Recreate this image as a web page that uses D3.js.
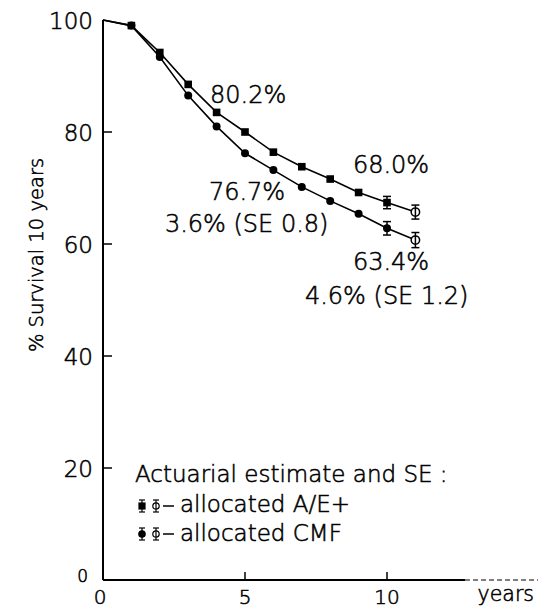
<!DOCTYPE html>
<html>
<head>
<meta charset="utf-8">
<script src="https://cdn.jsdelivr.net/npm/d3@7"></script>
<style>
  body { margin: 0; background: #fff; }
  svg { font-family: "DejaVu Sans", sans-serif; font-weight: 300; }
  text { fill: #000; stroke: #000; stroke-width: 0.55px; }
</style>
</head>
<body>
<svg id="chart" width="546" height="610"></svg>
<script>
// survival data
const years = [0, 1, 2, 3, 4, 5, 6, 7, 8, 9, 10, 11]
const aeSurvival = [100, 99.0, 94.2, 88.5, 83.5, 80.0, 76.4, 73.8, 71.6, 69.2, 67.4, 65.7]
const cmfSurvival = [100, 99.0, 93.4, 86.5, 81.0, 76.2, 73.2, 70.2, 67.7, 65.4, 62.8, 60.7]
// standard errors shown only at 10 and 11 years
const seYears = [10, 11]
const aeSE = [1.1, 1.25]
const cmfSE = [1.2, 1.35]

const yTicks = [20, 40, 60, 80, 100]
const xTicks = [0, 5, 10]

const annotations = [
  {text: "80.2%", year: 3.77, value: 85.2},
  {text: "76.7%", year: 3.73, value: 67.9},
  {text: "3.6% (SE 0.8)", year: 2.18, value: 62.1},
  {text: "68.0%", year: 8.8, value: 72.7},
  {text: "63.4%", year: 8.8, value: 55.4},
  {text: "4.6% (SE 1.2)", year: 7.11, value: 49.3}
]

const legendTitle = "Actuarial estimate and SE :"
const legendItems = [
  {label: "allocated A/E+", marker: "square"},
  {label: "allocated CMF", marker: "circle"}
]

let svg = d3.select("#chart")
let x = d3.scaleLinear().domain([0, 10]).range([103, 387])
let y = d3.scaleLinear().domain([0, 100]).range([580, 20])

// axes, drawn by hand to get the inward ticks of the original
let axes = svg.append("g").attr("stroke", "#000")
axes.append("line")
  .attr("x1", x(0)).attr("x2", x(0)).attr("y1", y(0)).attr("y2", y(100))
  .attr("stroke-width", 2)
axes.append("line")
  .attr("x1", x(0)).attr("x2", 465).attr("y1", y(0)).attr("y2", y(0))
  .attr("stroke-width", 2)
axes.append("line")
  .attr("x1", 465).attr("x2", 538).attr("y1", y(0)).attr("y2", y(0))
  .attr("stroke-width", 1.2).attr("stroke-dasharray", "5,3")

axes.selectAll("line.ytick")
  .data(yTicks.filter(d => d < 100))
  .join("line")
  .attr("class", "ytick")
  .attr("x1", x(0)).attr("x2", x(0) + 9)
  .attr("y1", d => y(d)).attr("y2", d => y(d))
  .attr("stroke-width", 1.5)

axes.selectAll("line.xtick")
  .data(xTicks.filter(d => d > 0))
  .join("line")
  .attr("class", "xtick")
  .attr("x1", d => x(d)).attr("x2", d => x(d))
  .attr("y1", y(0)).attr("y2", y(0) - 8)
  .attr("stroke-width", 1.5)

svg.selectAll("text.ylab")
  .data(yTicks)
  .join("text")
  .attr("class", "ylab")
  .attr("x", x(0) - 10)
  .attr("y", d => y(d) + 8.5)
  .attr("text-anchor", "end")
  .attr("font-size", 23)
  .text(d => d)

svg.append("text")
  .attr("x", x(0) - 15).attr("y", y(0) + 2)
  .attr("text-anchor", "end")
  .attr("font-size", 17)
  .text("0")

svg.selectAll("text.xlab")
  .data(xTicks)
  .join("text")
  .attr("class", "xlab")
  .attr("x", d => x(d) + (d == 0 ? -3 : 0))
  .attr("y", y(0) + 24)
  .attr("text-anchor", "middle")
  .attr("font-size", 20)
  .text(d => d)

svg.append("text")
  .attr("x", 534).attr("y", y(0) + 21)
  .attr("text-anchor", "end")
  .attr("font-size", 20.5)
  .text("years")

svg.append("text")
  .attr("transform", "translate(43, 255) rotate(-90)")
  .attr("text-anchor", "middle")
  .attr("font-size", 19.5)
  .text("% Survival 10 years")

// survival curves
let line = d3.line().x(d => x(d[0])).y(d => y(d[1]))
let series = [
  {values: aeSurvival, se: aeSE, marker: "square"},
  {values: cmfSurvival, se: cmfSE, marker: "circle"}
]

for(const s of series){
  let pts = years.map((yr, i) => [yr, s.values[i]])
  svg.append("path")
    .attr("d", line(pts))
    .attr("fill", "none")
    .attr("stroke", "#000")
    .attr("stroke-width", 1.6)

  // filled markers from year 1 to 10
  let filled = pts.filter(p => p[0] >= 1 && p[0] <= 10)
  if(s.marker == "square"){
    svg.selectAll(null).data(filled).join("rect")
      .attr("x", d => x(d[0]) - 3.8).attr("y", d => y(d[1]) - 3.8)
      .attr("width", 7.6).attr("height", 7.6)
      .attr("fill", "#000")
  } else {
    svg.selectAll(null).data(filled).join("circle")
      .attr("cx", d => x(d[0])).attr("cy", d => y(d[1]))
      .attr("r", 4)
      .attr("fill", "#000")
  }

  // error bars
  let bars = seYears.map((yr, i) => ({year: yr, value: s.values[years.indexOf(yr)], se: s.se[i]}))
  let eb = svg.append("g").attr("stroke", "#000").attr("stroke-width", 1.5)
  eb.selectAll("line.bar").data(bars).join("line")
    .attr("x1", d => x(d.year)).attr("x2", d => x(d.year))
    .attr("y1", d => y(d.value - d.se)).attr("y2", d => y(d.value + d.se))
  eb.selectAll("line.capTop").data(bars).join("line")
    .attr("x1", d => x(d.year) - 4).attr("x2", d => x(d.year) + 4)
    .attr("y1", d => y(d.value + d.se)).attr("y2", d => y(d.value + d.se))
  eb.selectAll("line.capBot").data(bars).join("line")
    .attr("x1", d => x(d.year) - 4).attr("x2", d => x(d.year) + 4)
    .attr("y1", d => y(d.value - d.se)).attr("y2", d => y(d.value - d.se))

  // open marker at 11 years
  let last = pts[pts.length - 1]
  svg.append("circle")
    .attr("cx", x(last[0])).attr("cy", y(last[1]))
    .attr("r", 4.2)
    .attr("fill", "#fff")
    .attr("stroke", "#000")
    .attr("stroke-width", 1.5)
  svg.append("line")
    .attr("x1", x(last[0])).attr("x2", x(last[0]))
    .attr("y1", y(last[1]) - 4.2).attr("y2", y(last[1]) + 4.2)
    .attr("stroke", "#000").attr("stroke-width", 1.5)
}

svg.selectAll("text.note")
  .data(annotations)
  .join("text")
  .attr("class", "note")
  .attr("x", d => x(d.year))
  .attr("y", d => y(d.value))
  .attr("font-size", 24)
  .attr("xml:space", "preserve")
  .text(d => d.text)

// legend
let legend = svg.append("g")
legend.append("text")
  .attr("x", 135).attr("y", 482)
  .attr("font-size", 23)
  .text(legendTitle)

let rows = legend.selectAll("g.row")
  .data(legendItems)
  .join("g")
  .attr("class", "row")
  .attr("transform", (d, i) => `translate(0, ${506 + i * 28})`)

rows.each(function(d){
  let g = d3.select(this)
  let sym = g.append("g").attr("stroke", "#000").attr("stroke-width", 1.2)
  // filled marker with SE bar
  sym.append("line").attr("x1", 142).attr("x2", 142).attr("y1", -6).attr("y2", 6)
  sym.append("line").attr("x1", 139).attr("x2", 145).attr("y1", -6).attr("y2", -6)
  sym.append("line").attr("x1", 139).attr("x2", 145).attr("y1", 6).attr("y2", 6)
  if(d.marker == "square"){
    sym.append("rect").attr("x", 139).attr("y", -3).attr("width", 6).attr("height", 6).attr("fill", "#000")
  } else {
    sym.append("circle").attr("cx", 142).attr("cy", 0).attr("r", 3.2).attr("fill", "#000")
  }
  // open marker with SE bar
  sym.append("line").attr("x1", 156).attr("x2", 156).attr("y1", -6).attr("y2", 6)
  sym.append("line").attr("x1", 153).attr("x2", 159).attr("y1", -6).attr("y2", -6)
  sym.append("line").attr("x1", 153).attr("x2", 159).attr("y1", 6).attr("y2", 6)
  sym.append("circle").attr("cx", 156).attr("cy", 0).attr("r", 3.2).attr("fill", "none")
  // dash
  sym.append("line").attr("x1", 163).attr("x2", 174).attr("y1", 0).attr("y2", 0).attr("stroke-width", 1.5)

  g.append("text")
    .attr("x", 180).attr("y", 6 + (d.marker == "square" ? 0 : 1))
    .attr("font-size", 23)
    .text(d.label)
})
</script>
</body>
</html>
